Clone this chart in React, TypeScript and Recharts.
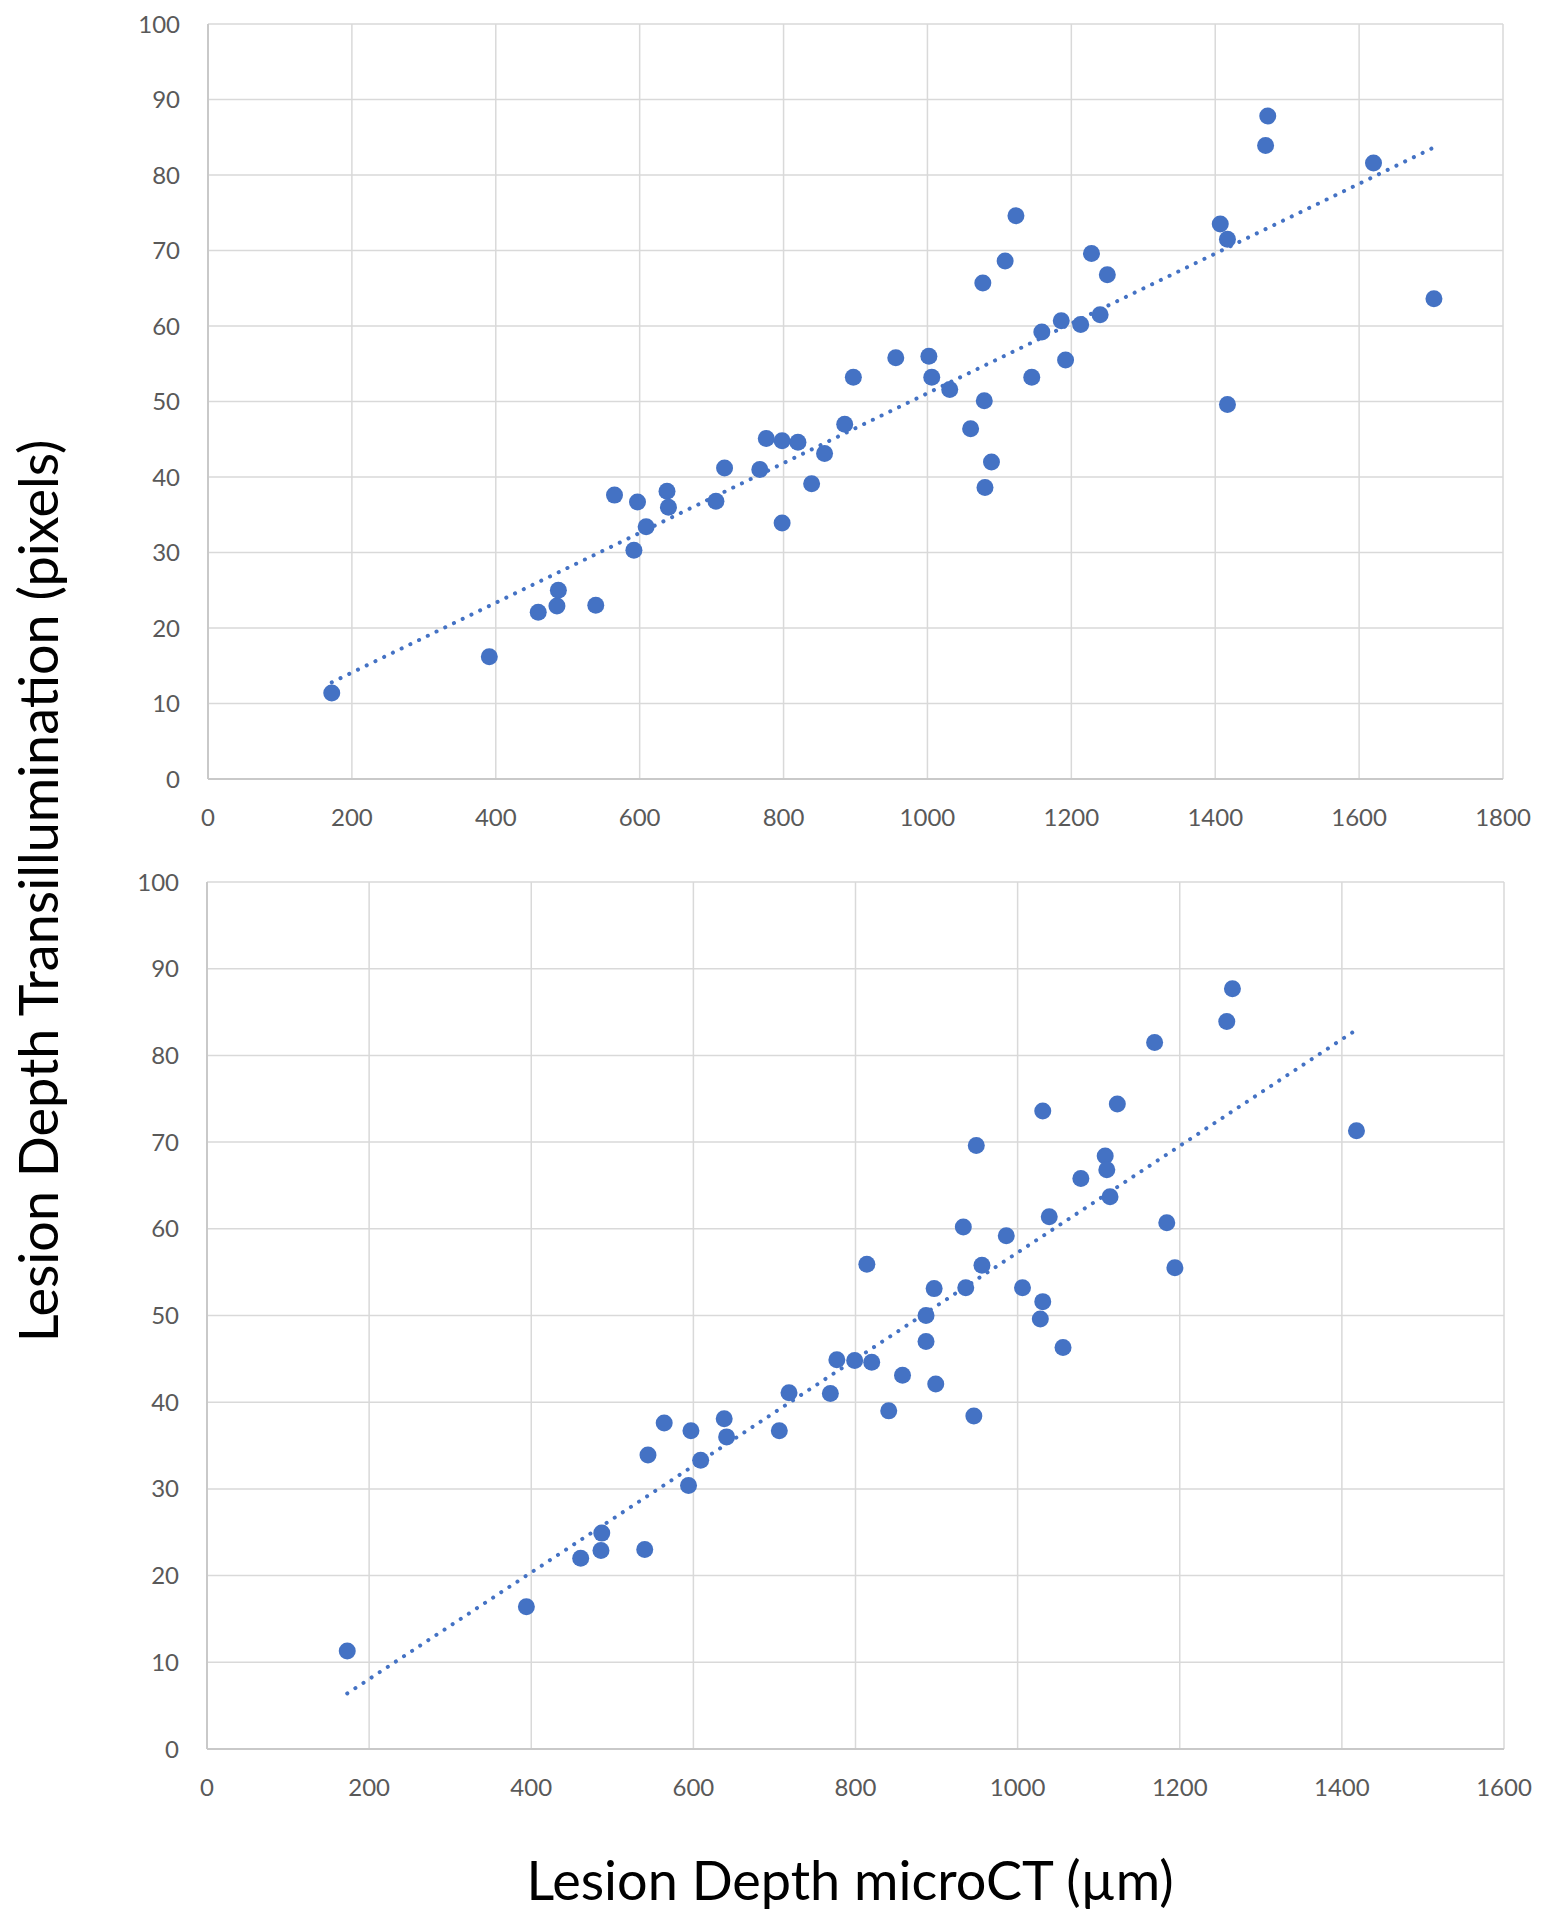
import { ScatterChart, Scatter, XAxis, YAxis, CartesianGrid, ReferenceLine } from 'recharts'

const yTicks = [0, 10, 20, 30, 40, 50, 60, 70, 80, 90, 100]
const topXTicks = [0, 200, 400, 600, 800, 1000, 1200, 1400, 1600, 1800]
const bottomXTicks = [0, 200, 400, 600, 800, 1000, 1200, 1400, 1600]

// top panel: microCT depth vs transillumination depth
const topX = [
  172, 391, 459, 485, 487, 539, 565, 592, 597, 609, 638, 640, 706, 718, 767, 776, 798,
  798, 820, 839, 857, 885, 897, 956, 1002, 1006, 1031, 1060, 1077, 1079, 1080, 1089,
  1108, 1123, 1145, 1159, 1186, 1192, 1213, 1228, 1240, 1250, 1407, 1417, 1417, 1470,
  1473, 1620, 1704,
]
const topY = [
  11.4, 16.2, 22.1, 22.9, 25.0, 23.0, 37.6, 30.3, 36.7, 33.4, 38.1, 36.0, 36.8, 41.2,
  41.0, 45.1, 44.8, 33.9, 44.6, 39.1, 43.1, 47.0, 53.2, 55.8, 56.0, 53.2, 51.6, 46.4,
  65.7, 50.1, 38.6, 42.0, 68.6, 74.6, 53.2, 59.2, 60.7, 55.5, 60.2, 69.6, 61.5, 66.8,
  73.5, 71.5, 49.6, 83.9, 87.8, 81.6, 63.6,
]
const topTrendX = [172, 1705]
const topTrendY = [12.8, 83.7]

// bottom panel
const bottomX = [
  173, 394, 461, 486, 487, 540, 544, 564, 594, 597, 609, 638, 641, 706, 718, 769, 777,
  799, 820, 841, 858, 814, 887, 887, 897, 899, 933, 936, 946, 949, 956, 986, 1006,
  1028, 1031, 1031, 1039, 1056, 1078, 1108, 1110, 1114, 1123, 1169, 1184, 1194, 1258,
  1265, 1418,
]
const bottomY = [
  11.3, 16.4, 22.0, 22.9, 24.9, 23.0, 33.9, 37.6, 30.4, 36.7, 33.3, 38.1, 36.0, 36.7,
  41.1, 41.0, 44.9, 44.8, 44.6, 39.0, 43.1, 55.9, 50.0, 47.0, 53.1, 42.1, 60.2, 53.2,
  38.4, 69.6, 55.8, 59.2, 53.2, 49.6, 51.6, 73.6, 61.4, 46.3, 65.8, 68.4, 66.8, 63.7,
  74.4, 81.5, 60.7, 55.5, 83.9, 87.7, 71.3,
]
const bottomTrendX = [173, 1417]
const bottomTrendY = [6.4, 82.9]

const BLUE = '#4472C4'
const GRID = '#d9d9d9'
const TICK = { fill: '#595959', fontSize: 24, fontFamily: 'Lato' }

interface PanelProps {
  xs: number[]
  ys: number[]
  trendX: number[]
  trendY: number[]
  xTicks: number[]
  xMax: number
  top: number
  height: number
  margin: { top: number; right: number; bottom: number; left: number }
}

function Panel({ xs, ys, trendX, trendY, xTicks, xMax, top, height, margin }: PanelProps) {
  const data = xs.map((x, i) => ({ x, y: ys[i] }))
  const segment = trendX.map((x, i) => ({ x, y: trendY[i] }))

  return (
    <div style={{ position: 'absolute', left: 0, top }}>
      <ScatterChart width={1545} height={height} margin={margin}>
        <CartesianGrid stroke={GRID} strokeWidth={1.5} />
        <XAxis
          type="number"
          dataKey="x"
          domain={[0, xMax]}
          ticks={xTicks}
          interval={0}
          height={51}
          tickLine={false}
          tickSize={0}
          tickMargin={30}
          axisLine={{ stroke: '#c9c9c9', strokeWidth: 2 }}
          tick={TICK}
        />
        <YAxis
          type="number"
          dataKey="y"
          domain={[0, 100]}
          ticks={yTicks}
          interval={0}
          width={60}
          tickLine={false}
          tickSize={0}
          tickMargin={28}
          axisLine={{ stroke: '#c9c9c9', strokeWidth: 2 }}
          tick={TICK}
        />
        <ReferenceLine
          segment={segment}
          stroke={BLUE}
          strokeWidth={4}
          strokeDasharray="0.1 9.6"
          strokeLinecap="round"
          ifOverflow="visible"
        />
        <Scatter
          data={data}
          fill={BLUE}
          isAnimationActive={false}
          shape={(p: any) => <circle cx={p.cx} cy={p.cy} r={8.5} fill={BLUE} />}
        />
      </ScatterChart>
    </div>
  )
}

export default function App() {
  return (
    <div
      style={{
        position: 'absolute',
        left: 0,
        top: 0,
        width: 1545,
        height: 1920,
        background: '#fff',
        fontFamily: 'Lato',
      }}
    >
      <Panel
        xs={topX}
        ys={topY}
        trendX={topTrendX}
        trendY={topTrendY}
        xTicks={topXTicks}
        xMax={1800}
        top={0}
        height={830}
        margin={{ top: 24, right: 42, bottom: 0, left: 148 }}
      />
      <Panel
        xs={bottomX}
        ys={bottomY}
        trendX={bottomTrendX}
        trendY={bottomTrendY}
        xTicks={bottomXTicks}
        xMax={1600}
        top={850}
        height={950}
        margin={{ top: 32, right: 41, bottom: 0, left: 147 }}
      />
      {/* shared axis titles */}
      <div
        style={{
          position: 'absolute',
          left: 37,
          top: 891,
          transform: 'translate(-50%, -50%) rotate(-90deg)',
          whiteSpace: 'nowrap',
          fontSize: 54,
          color: '#000',
        }}
      >
        Lesion Depth Transillumination (pixels)
      </div>
      <div
        style={{
          position: 'absolute',
          left: 850,
          top: 1879,
          transform: 'translate(-50%, -50%)',
          whiteSpace: 'nowrap',
          fontSize: 54,
          color: '#000',
        }}
      >
        Lesion Depth microCT (µm)
      </div>
    </div>
  )
}
